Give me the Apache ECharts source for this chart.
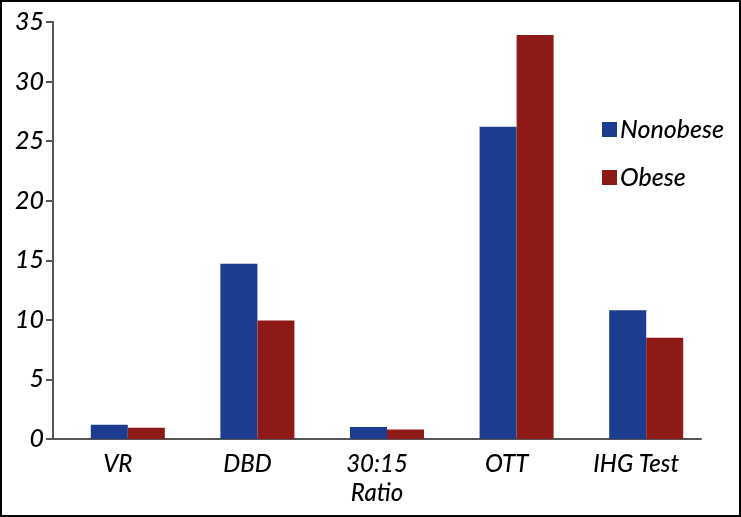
<!DOCTYPE html>
<html><head><meta charset="utf-8">
<script src="https://cdn.jsdelivr.net/npm/echarts@6/dist/echarts.min.js"></script>
<style>html,body{margin:0;padding:0;background:#fff}#c{width:741px;height:517px;box-sizing:border-box;border:2px solid #000}</style>
</head><body><div id="c"></div>
<script>
const categories = ['VR', 'DBD', '30:15\nRatio', 'OTT', 'IHG Test'];
const nonobese = [1.2, 14.7, 1.0, 26.2, 10.8];
const obese = [0.95, 9.95, 0.8, 33.9, 8.5];
const yTicks = [0, 5, 10, 15, 20, 25, 30, 35];
const font = 'Lato';
const chart = echarts.init(document.getElementById('c'));
chart.setOption({
  animation: false,
  grid: {left: 51, right: 38, top: 20, bottom: 76},
  legend: {
    orient: 'vertical', left: 595, top: 110, itemWidth: 15, itemHeight: 15, itemGap: 23,
    icon: 'rect',
    textStyle: {fontFamily: font, fontStyle: 'italic', fontWeight: 500, fontSize: 25, color: '#000', padding: [0,0,0,-2]},
    data: ['Nonobese', 'Obese']
  },
  xAxis: {
    type: 'category', data: categories,
    axisLine: {lineStyle: {color: '#555', width: 2}},
    axisTick: {length: 9, lineStyle: {color: '#555', width: 2}},
    axisLabel: {fontFamily: font, fontStyle: 'italic', fontWeight: 500, fontSize: 24, color: '#000', margin: 11, lineHeight: 29}
  },
  yAxis: {
    type: 'value', min: yTicks[0], max: yTicks[yTicks.length-1], interval: 5,
    splitLine: {show: false},
    axisLine: {show: true, lineStyle: {color: '#555', width: 2}},
    axisTick: {show: true, length: 7, lineStyle: {color: '#555', width: 2}},
    axisLabel: {fontFamily: font, fontStyle: 'italic', fontWeight: 500, fontSize: 25, color: '#000', margin: 9}
  },
  series: [
    {name: 'spacer', type: 'bar', data: [null, null, null, null, null], barWidth: 20, barGap: '0%'},
    {name: 'Nonobese', type: 'bar', data: nonobese, barWidth: 37, itemStyle: {color: '#1C3D8F'}, barGap: '0%'},
    {name: 'Obese', type: 'bar', data: obese, barWidth: 37, itemStyle: {color: '#8E1A17'}, barGap: '0%'}
  ]
});
</script></body></html>
